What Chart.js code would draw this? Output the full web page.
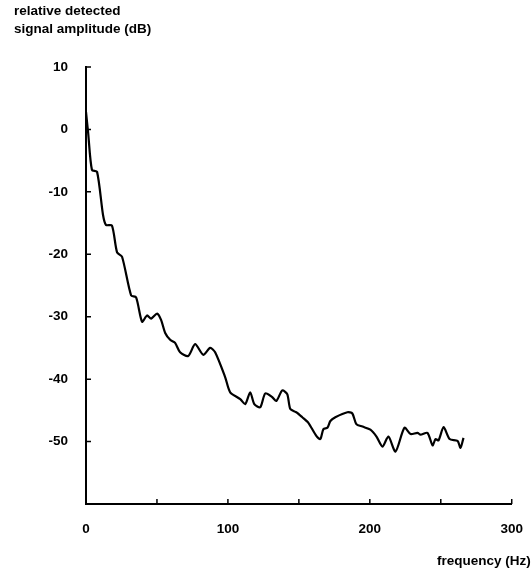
<!DOCTYPE html>
<html>
<head>
<meta charset="utf-8">
<script src="https://cdn.jsdelivr.net/npm/chart.js@4"></script>
<style>
  html, body { margin: 0; padding: 0; background: #fff; }
  #wrap { position: relative; width: 532px; height: 569px; }
  .lbl { position: absolute; font: bold 13.5px "Liberation Sans", sans-serif; color: #000; white-space: nowrap; }
</style>
</head>
<body>
<div id="wrap">
  <canvas id="spectrum" width="532" height="569"></canvas>
  <div class="lbl" style="left:14px; top:3px;">relative detected</div>
  <div class="lbl" style="left:14px; top:21px;">signal amplitude (dB)</div>
  <div class="lbl" style="left:437px; top:553px;">frequency (Hz)</div>
</div>
<script>
// frequency (Hz) and detected amplitude (dB)
const freqHz = [0, 1.5, 4.2, 7.8, 12, 14.1, 18.3, 21.9, 25.4, 31.8, 35.3, 39.5, 43, 45.9, 50.1,
  52.9, 55.8, 59.3, 62.8, 66.3, 72, 76.9, 82.6, 87.5, 91, 98.1, 101.6, 108.7, 112.2, 115.7,
  118.6, 122.8, 126.3, 131.3, 134.1, 138.3, 141.8, 144, 148.2, 152.4, 156.7, 162.3, 165.1,
  167.3, 170.1, 172.2, 175.7, 184.2, 187.7, 190.5, 194.8, 200.4, 204.7, 208.9, 213.1, 218.1,
  224.4, 228.7, 233.6, 235.7, 240.6, 244.2, 246.3, 248.4, 252, 256.2, 261.8, 263.9, 266];
const amplitudeDb = [2.8, -0.5, -6.5, -6.8, -13.7, -15.3, -15.4, -19.7, -20.4, -26.6, -26.9, -30.8, -29.8, -30.3, -29.5,
  -30.5, -32.6, -33.7, -34.2, -35.7, -36.3, -34.4, -36.1, -35, -35.7, -39.7, -42.1, -43.2, -44, -42.1,
  -44, -44.5, -42.3, -42.9, -43.5, -41.8, -42.4, -44.8, -45.3, -46.1, -47, -49.1, -49.6,
  -48, -47.8, -46.7, -46.1, -45.3, -45.5, -47.2, -47.6, -48.1, -49.2, -50.8, -49.2, -51.6,
  -47.8, -48.8, -48.6, -48.9, -48.6, -50.6, -49.6, -49.8, -47.7, -49.6, -49.9, -51, -49.4];

const xTickMarks = [50, 100, 150, 200, 250, 300];
const yTickMarks = [10, 0, -10, -20, -30, -40, -50];

// short tick marks pointing into the plot
const innerTicks = {
  id: 'innerTicks',
  afterDraw(chart) {
    const ctx = chart.ctx;
    const xs = chart.scales.x, ys = chart.scales.y;
    ctx.save();
    ctx.strokeStyle = '#000';
    ctx.lineWidth = 1.5;
    ctx.beginPath();
    xTickMarks.forEach(v => {
      const px = xs.getPixelForValue(v);
      ctx.moveTo(px, ys.bottom);
      ctx.lineTo(px, ys.bottom - 5);
    });
    yTickMarks.forEach(v => {
      const py = ys.getPixelForValue(v);
      ctx.moveTo(xs.left, py);
      ctx.lineTo(xs.left + 5, py);
    });
    ctx.stroke();
    ctx.restore();
  }
};

new Chart(document.getElementById('spectrum').getContext('2d'), {
  type: 'line',
  data: {
    datasets: [{
      data: freqHz.map((f, i) => ({ x: f, y: amplitudeDb[i] })),
      borderColor: '#000',
      borderWidth: 2.2,
      pointRadius: 0,
      tension: 0.25,
      fill: false
    }]
  },
  options: {
    responsive: false,
    animation: false,
    layout: { padding: { left: 0, top: 67, right: 16, bottom: 0 } },
    plugins: { legend: { display: false }, tooltip: { enabled: false } },
    scales: {
      x: {
        type: 'linear',
        min: 0, max: 300,
        afterFit: s => { s.height = 65; },
        grid: { display: false },
        border: { display: true, color: '#000', width: 2 },
        ticks: {
          stepSize: 100,
          padding: 9,
          color: '#000',
          font: { family: 'Liberation Sans', size: 13.5, weight: 'bold' }
        }
      },
      y: {
        min: -60, max: 10,
        afterFit: s => { s.width = 86; },
        grid: { display: false },
        border: { display: true, color: '#000', width: 2 },
        ticks: {
          stepSize: 10,
          padding: 10,
          color: '#000',
          font: { family: 'Liberation Sans', size: 13.5, weight: 'bold' },
          callback: v => (v === -60 ? '' : v)
        }
      }
    }
  },
  plugins: [innerTicks]
});
</script>
</body>
</html>
